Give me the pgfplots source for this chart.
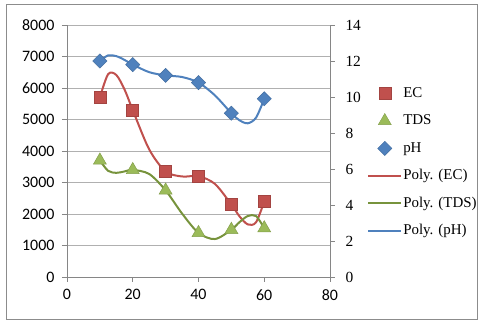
\documentclass[border=0pt]{standalone}
\usepackage{fontspec}
\setmainfont{Liberation Serif}
\newfontfamily\calfont{Carlito}
\usepackage{pgfplots}
\pgfplotsset{compat=1.18}
\definecolor{ecred}{HTML}{C0504D}
\definecolor{tdsgreen}{HTML}{9BBB59}
\definecolor{tdsline}{HTML}{77933C}
\definecolor{phblue}{HTML}{4F81BD}
\definecolor{axgray}{HTML}{868686}
\definecolor{gridgray}{HTML}{B0B0B0}
\definecolor{framegray}{HTML}{8C8C8C}

\pgfplotsset{
  base/.style={
    at={(0,0)}, anchor=south west,
    scale only axis, width=263bp, height=252bp,
    xmin=0, xmax=80,
    tick align=outside, major tick length=5bp,
    tick style={draw=axgray, line width=0.8bp},
    axis line style={draw=axgray, line width=0.8bp, -},
    /pgf/number format/assume math mode=true,
    /pgf/number format/1000 sep={},
    scaled ticks=false,
  },
}

\begin{document}
\begin{tikzpicture}
\begin{axis}[base,
  ymin=0, ymax=8000,
  xtick={0,20,...,80}, ytick={0,1000,...,8000},
  axis x line*=bottom, axis y line*=left,
  ymajorgrids, grid style={draw=gridgray, line width=0.8bp},
  ticklabel style={font=\calfont\fontsize{16}{19}\selectfont},
  yticklabel style={xshift=-4bp},
  xticklabel style={yshift=-4bp},
]
% trendlines
\addplot[ecred, line width=2bp, smooth] coordinates {
  (10,5700) (12.5,6438) (15,6413) (17.5,5952) (20,5300) (25,4052) (30,3350)
  (35,3191) (40,3200) (45,2955) (50,2300) (52.5,1923) (55,1669) (57.5,1736) (60,2400)
};
\addplot[tdsline, line width=2bp, smooth] coordinates {
  (10,3700) (12.5,3371) (15,3306) (17.5,3351) (20,3400) (25,3271) (30,2750)
  (35,2015) (40,1400) (45,1205) (50,1500) (52.5,1744) (55,1936) (57.5,1935) (60,1550)
};
% data
\addplot[only marks, mark=square*, mark size=6bp, mark options={fill=ecred, draw=ecred!85!black, line width=0.5bp}]
  coordinates {(10,5700) (20,5300) (30,3350) (40,3200) (50,2300) (60,2400)};
\addplot[only marks, mark=triangle*, mark size=7.5bp, mark options={fill=tdsgreen, draw=tdsgreen!85!black, line width=0.5bp}]
  coordinates {(10,3700) (20,3400) (30,2750) (40,1400) (50,1500) (60,1550)};
\end{axis}

\begin{axis}[base,
  ymin=0, ymax=14, ytick={0,2,...,14},
  axis y line*=right, axis x line=none,
  ticklabel style={font=\fontsize{15.5}{18}\selectfont},
  yticklabel style={xshift=7bp},
  legend image code/.code={\draw[mark repeat=2, mark phase=2, #1] plot coordinates {(0bp,0bp) (16.5bp,0bp) (33bp,0bp)};},
  legend cell align=left,
  legend style={at={(1.141,0.762)}, anchor=north west, draw=none, fill=none,
    inner sep=0pt, row sep=11bp, font=\fontsize{15}{18}\selectfont,
    nodes={inner sep=1bp, text height=11bp, text depth=3.5bp}},
]
\addlegendimage{only marks, mark=square*, mark size=6bp, mark options={fill=ecred, draw=ecred!85!black}}
\addlegendentry{EC}
\addlegendimage{only marks, mark=triangle*, mark size=7.5bp, mark options={fill=tdsgreen, draw=tdsgreen!85!black}}
\addlegendentry{TDS}
\addplot[phblue, line width=2bp, smooth, forget plot] coordinates {
  (10,12.0) (12.5,12.31) (15,12.27) (17.5,12.06) (20,11.8) (25,11.38) (30,11.2)
  (35,11.11) (40,10.8) (45,10.09) (50,9.1) (52.5,8.70) (55,8.54) (57.5,8.85) (60,9.9)
};
\addplot[only marks, mark=square*, mark size=5bp, mark options={rotate=45, fill=phblue, draw=phblue!85!black, line width=0.5bp}]
  coordinates {(10,12.0) (20,11.8) (30,11.2) (40,10.8) (50,9.1) (60,9.9)};
\addlegendentry{pH}
\addlegendimage{ecred, line width=2bp}
\addlegendentry{Poly. (EC)}
\addlegendimage{tdsline, line width=2bp}
\addlegendentry{Poly. (TDS)}
\addlegendimage{phblue, line width=2bp}
\addlegendentry{Poly. (pH)}
\end{axis}

\draw[framegray, line width=1bp] (-60bp,-42bp) rectangle (410bp,272bp);
\pgfresetboundingbox
\path[use as bounding box] (-67bp,-47bp) rectangle (413bp,277bp);
\end{tikzpicture}
\end{document}
